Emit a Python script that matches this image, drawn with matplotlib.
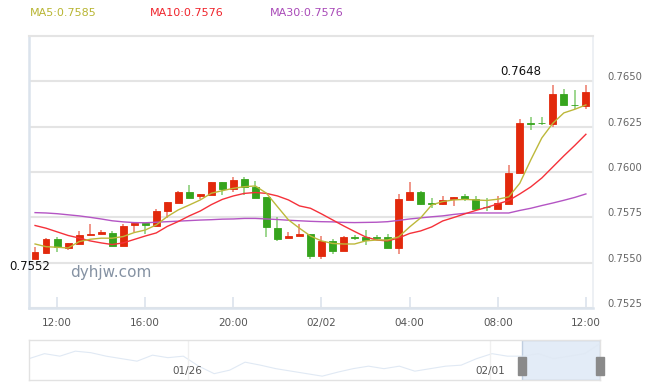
import matplotlib
matplotlib.use("Agg")
import matplotlib.pyplot as plt
import matplotlib.transforms as mtransforms

# velas de 30 minutos: apertura, cierre, máximo, mínimo
opens = [0.75520, 0.75556, 0.75629, 0.75583, 0.75603, 0.75650, 0.75657, 0.75666, 0.75592, 0.75706,
         0.75721, 0.75704, 0.75787, 0.75830, 0.75889, 0.75868, 0.75875, 0.75947, 0.75907, 0.75960,
         0.75916, 0.75861, 0.75690, 0.75636, 0.75647, 0.75658, 0.75537, 0.75620, 0.75565, 0.75640,
         0.75640, 0.75640, 0.75640, 0.75580, 0.75846, 0.75889, 0.75828, 0.75822, 0.75850, 0.75865,
         0.75850, 0.75808, 0.75796, 0.75824, 0.75997, 0.76270, 0.76270, 0.76265, 0.76429, 0.76370,
         0.76365]
closes = [0.75560, 0.75629, 0.75585, 0.75607, 0.75650, 0.75657, 0.75670, 0.75592, 0.75704, 0.75721,
          0.75706, 0.75787, 0.75837, 0.75889, 0.75859, 0.75879, 0.75947, 0.75907, 0.75956, 0.75916,
          0.75859, 0.75697, 0.75633, 0.75649, 0.75658, 0.75539, 0.75620, 0.75565, 0.75640, 0.75635,
          0.75625, 0.75635, 0.75580, 0.75850, 0.75889, 0.75824, 0.75824, 0.75848, 0.75861, 0.75850,
          0.75795, 0.75805, 0.75831, 0.75997, 0.76270, 0.76265, 0.76268, 0.76429, 0.76367, 0.76368,
          0.76440]
highs = [0.75588, 0.75635, 0.75644, 0.75607, 0.75677, 0.75712, 0.75680, 0.75675, 0.75714, 0.75721,
         0.75721, 0.75795, 0.75837, 0.75897, 0.75929, 0.75879, 0.75947, 0.75947, 0.75971, 0.75975,
         0.75950, 0.75861, 0.75754, 0.75670, 0.75714, 0.75658, 0.75649, 0.75629, 0.75647, 0.75650,
         0.75680, 0.75650, 0.75658, 0.75879, 0.75947, 0.75893, 0.75855, 0.75865, 0.75861, 0.75879,
         0.75868, 0.75855, 0.75868, 0.76039, 0.76293, 0.76306, 0.76306, 0.76481, 0.76457, 0.76453,
         0.76481]
lows = [0.75520, 0.75546, 0.75561, 0.75570, 0.75603, 0.75650, 0.75657, 0.75592, 0.75592, 0.75671,
        0.75657, 0.75704, 0.75745, 0.75830, 0.75859, 0.75850, 0.75875, 0.75872, 0.75889, 0.75875,
        0.75859, 0.75642, 0.75620, 0.75636, 0.75647, 0.75520, 0.75520, 0.75548, 0.75565, 0.75625,
        0.75598, 0.75625, 0.75580, 0.75546, 0.75846, 0.75820, 0.75800, 0.75818, 0.75813, 0.75842,
        0.75791, 0.75787, 0.75796, 0.75824, 0.75997, 0.76232, 0.76260, 0.76247, 0.76367, 0.76347,
        0.76347]

# medias móviles
ma5 = [0.75603, 0.75588, 0.75585, 0.75581, 0.75616, 0.75629, 0.75635, 0.75635, 0.75644, 0.75666,
       0.75680, 0.75708, 0.75754, 0.75791, 0.75818, 0.75846, 0.75883, 0.75897, 0.75910, 0.75919,
       0.75923, 0.75883, 0.75809, 0.75736, 0.75690, 0.75647, 0.75620, 0.75606, 0.75603, 0.75603,
       0.75620, 0.75625, 0.75625, 0.75642, 0.75697, 0.75747, 0.75818, 0.75837, 0.75846, 0.75849,
       0.75846, 0.75843, 0.75850, 0.75863, 0.75938, 0.76067, 0.76188, 0.76269, 0.76326, 0.76346,
       0.76370]
ma10 = [0.75705, 0.75690, 0.75670, 0.75650, 0.75636, 0.75620, 0.75609, 0.75600, 0.75609, 0.75628,
        0.75647, 0.75664, 0.75700, 0.75727, 0.75758, 0.75785, 0.75820, 0.75849, 0.75868, 0.75882,
        0.75887, 0.75882, 0.75868, 0.75846, 0.75813, 0.75800, 0.75769, 0.75736, 0.75703, 0.75672,
        0.75642, 0.75625, 0.75620, 0.75636, 0.75661, 0.75675, 0.75697, 0.75730, 0.75749, 0.75769,
        0.75788, 0.75805, 0.75824, 0.75843, 0.75879, 0.75918, 0.75967, 0.76028, 0.76089, 0.76147,
        0.76208]
ma30 = [0.75776, 0.75774, 0.75770, 0.75764, 0.75758, 0.75750, 0.75741, 0.75731, 0.75725, 0.75721,
        0.75720, 0.75723, 0.75726, 0.75729, 0.75732, 0.75735, 0.75737, 0.75740, 0.75741, 0.75744,
        0.75744, 0.75741, 0.75738, 0.75734, 0.75731, 0.75728, 0.75726, 0.75725, 0.75722, 0.75721,
        0.75722, 0.75723, 0.75726, 0.75733, 0.75741, 0.75747, 0.75753, 0.75758, 0.75766, 0.75772,
        0.75774, 0.75774, 0.75774, 0.75774, 0.75788, 0.75800, 0.75815, 0.75829, 0.75844, 0.75860,
        0.75879]

# eje horizontal
xtick_pos = [2, 10, 18, 26, 34, 42, 50]
xtick_labels = ["12:00", "16:00", "20:00", "02/02", "04:00", "08:00", "12:00"]
yticks = [0.7525, 0.7550, 0.7575, 0.7600, 0.7625, 0.7650]

# serie de la barra de zoom inferior (aprox.)
overview = [0.7558, 0.7588, 0.7573, 0.7603, 0.7594, 0.7573, 0.7558, 0.7543, 0.7579, 0.7564,
            0.7573, 0.7513, 0.7468, 0.7489, 0.7537, 0.7519, 0.7498, 0.7483, 0.7468, 0.7453,
            0.7477, 0.7498, 0.7513, 0.7498, 0.7513, 0.7483, 0.7498, 0.7513, 0.7519, 0.7558,
            0.7588, 0.7573, 0.7573, 0.7588, 0.7558, 0.7573, 0.7588, 0.7648]

legend_items = [("MA5:0.7585", "#b8b532"), ("MA10:0.7576", "#f0242c"), ("MA30:0.7576", "#a94ab8")]

RED, RED_W = "#e2290c", "#ee8474"
GREEN, GREEN_W = "#36a41d", "#8cd07c"
GRID = "#e4e4e4"
AXIS = "#dbe3ec"

plt.rcParams["font.family"] = ["DejaVu Sans"]
fig = plt.figure(figsize=(6.45, 3.83), dpi=100)
ax = fig.add_axes([29 / 645, 1 - 308 / 383, (592.5 - 29) / 645, (308 - 36) / 383])

x = list(range(len(opens)))
for i in x:
    up = closes[i] >= opens[i]
    ax.vlines(i, lows[i], highs[i], color=RED_W if up else GREEN_W, lw=1.2, zorder=3)
for i in x:
    up = closes[i] >= opens[i]
    c = RED if up else GREEN
    lo, hi = min(opens[i], closes[i]), max(opens[i], closes[i])
    ax.bar(i, max(hi - lo, 0.00002), bottom=lo, width=0.62, color=c,
           edgecolor=c, linewidth=0.6, zorder=4)

ax.plot(x, ma30, color="#b455c4", lw=1, zorder=5)
ax.plot(x, ma10, color="#f5313a", lw=1, zorder=5)
ax.plot(x, ma5, color="#bdb83a", lw=1, zorder=5)

ax.set_xlim(-0.55, 50.6)
ax.set_ylim(0.7525, 0.7675)
ax.set_yticks(yticks)
ax.set_yticklabels([f"{v:.4f}" for v in yticks])
ax.yaxis.tick_right()
ax.tick_params(axis="y", length=0, pad=11, labelsize=7.2, labelcolor="#666666")
off = mtransforms.ScaledTranslation(0, 5 / 100, fig.dpi_scale_trans)
for lab in ax.get_yticklabels():
    lab.set_transform(lab.get_transform() + off)
ax.grid(axis="y", color=GRID, lw=1.5)
ax.set_axisbelow(True)

ax.set_xticks(xtick_pos)
ax.set_xticklabels(xtick_labels)
ax.tick_params(axis="x", direction="in", length=8, width=1.2, color=AXIS,
               labelsize=7.5, labelcolor="#555555", pad=7)

for s in ["left", "bottom"]:
    ax.spines[s].set_color(AXIS)
    ax.spines[s].set_linewidth(1.8)
ax.spines["top"].set_color(GRID)
ax.spines["top"].set_linewidth(1.5)
ax.spines["right"].set_color("#eaeef2")
ax.spines["right"].set_linewidth(1.2)

# etiquetas de máximo y mínimo
imax = highs.index(max(highs))
ax.annotate(f"{max(highs):.4f}", (imax, max(highs)), xytext=(-23, 5),
            textcoords="offset points", ha="center", va="bottom", fontsize=8.5, color="#111111")
imin = lows.index(min(lows))
ax.annotate(f"{min(lows):.4f}", (imin, min(lows)), xytext=(-4, -1),
            textcoords="offset points", ha="center", va="top", fontsize=8.5, color="#111111",
            annotation_clip=False)

fig.text(70 / 645, 1 - 273 / 383, "dyhjw.com", fontsize=11, color="#8592a3", va="center")

# leyenda superior
for (txt, col), xpos in zip(legend_items, [30, 150, 270]):
    fig.text(xpos / 645, 1 - 13 / 383, txt, color=col, fontsize=8, va="center")

# barra de zoom inferior
ax2 = fig.add_axes([29 / 645, 1 - 380 / 383, (600 - 29) / 645, 40 / 383])
ax2.plot(range(len(overview)), overview, color="#e0e9f4", lw=0.8)
ax2.set_xlim(0, len(overview) - 1)
ax2.set_ylim(0.743, 0.767)
ax2.set_xticks([])
ax2.set_yticks([])
for s in ax2.spines.values():
    s.set_color("#e2e2e2")
    s.set_linewidth(1)
ax2.axvspan(0.863 * (len(overview) - 1), len(overview) - 1, color="#dfe9f6", alpha=0.85,
            ec="#b7c6da", lw=1)
for fx in [0.278, 0.807]:
    ax2.axvline(fx * (len(overview) - 1), color="#f0f0f0", lw=1)
ax2.text(0.278, 0.22, "01/26", transform=ax2.transAxes, ha="center", va="center",
         fontsize=7.5, color="#555555")
ax2.text(0.807, 0.22, "02/01", transform=ax2.transAxes, ha="center", va="center",
         fontsize=7.5, color="#555555")
for fx in [0.863, 1.0]:
    ax2.add_patch(plt.Rectangle((fx - 0.007, 0.12), 0.014, 0.45, transform=ax2.transAxes,
                                color="#8a8a8a", clip_on=False, zorder=5))

fig.savefig("out.png", dpi=100)
